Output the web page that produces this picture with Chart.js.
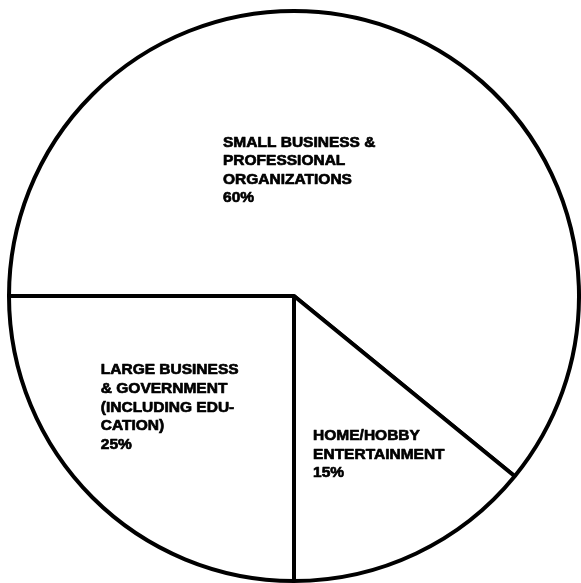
<!DOCTYPE html>
<html lang="en">
<head>
    <meta charset="UTF-8">
    <title>Market Share Pie</title>
    <script src="https://cdn.jsdelivr.net/npm/chart.js"></script>
    <style>
        html, body {
            margin: 0;
            padding: 0;
            background: #ffffff;
        }

        .chart-box {
            position: relative;
            width: 581px;
            height: 583px;
        }
    </style>
</head>
<body>
    <div class="chart-box">
        <canvas id="pieChart"></canvas>
    </div>

    <script>
        // Segments, clockwise from the 9 o'clock position (angles as drawn in the original)
        const categories = ['SMALL BUSINESS & PROFESSIONAL ORGANIZATIONS', 'HOME/HOBBY ENTERTAINMENT', 'LARGE BUSINESS & GOVERNMENT (INCLUDING EDUCATION)'];
        const shares = [60.9, 14.1, 25];
        const labelLines = [
            ['SMALL BUSINESS &', 'PROFESSIONAL', 'ORGANIZATIONS', '60%'],
            ['HOME/HOBBY', 'ENTERTAINMENT', '15%'],
            ['LARGE BUSINESS', '& GOVERNMENT', '(INCLUDING EDU-', 'CATION)', '25%']
        ];

        // Where each label block starts, as a fraction of the radius from the centre
        const labelAnchors = [
            { dx: -0.249, dy: -0.524 },
            { dx: 0.067, dy: 0.505 },
            { dx: -0.678, dy: 0.275 }
        ];

        const sliceLabels = {
            id: 'sliceLabels',
            afterDatasetsDraw(chart) {
                const arc = chart.getDatasetMeta(0).data[0];
                const cx = arc.x, cy = arc.y, r = arc.outerRadius;
                const ctx = chart.ctx;
                ctx.save();
                ctx.fillStyle = '#000';
                ctx.strokeStyle = '#000';
                ctx.lineWidth = 0.7;
                ctx.lineJoin = 'round';
                ctx.font = 'bold 15.5px "Liberation Sans", Arial, sans-serif';
                ctx.textAlign = 'left';
                ctx.textBaseline = 'alphabetic';
                labelLines.forEach((lines, i) => {
                    const x = cx + labelAnchors[i].dx * r;
                    const y = cy + labelAnchors[i].dy * r;
                    lines.forEach((line, j) => {
                        ctx.fillText(line, x, y + j * 18.6);
                        ctx.strokeText(line, x, y + j * 18.6);
                    });
                });
                ctx.restore();
            }
        };

        new Chart(document.getElementById('pieChart'), {
            type: 'pie',
            data: {
                labels: categories,
                datasets: [{
                    data: shares,
                    backgroundColor: '#ffffff',
                    borderColor: '#000000',
                    borderWidth: 4,
                    hoverOffset: 0
                }]
            },
            options: {
                responsive: true,
                maintainAspectRatio: false,
                animation: false,
                rotation: 270,
                layout: {
                    padding: { left: 7, top: 9, right: 0, bottom: 0 }
                },
                plugins: {
                    legend: { display: false },
                    tooltip: { enabled: false }
                }
            },
            plugins: [sliceLabels]
        });
    </script>
</body>
</html>
